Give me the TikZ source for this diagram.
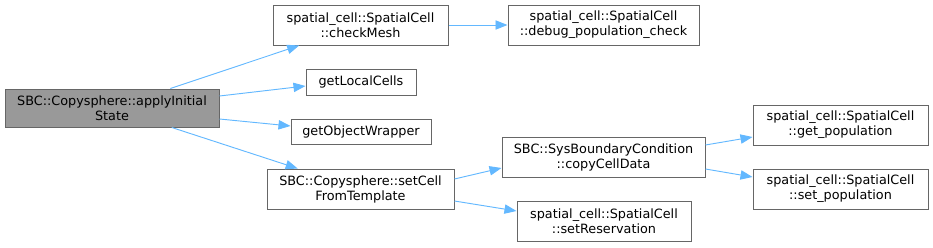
\documentclass[tikz,border=0pt]{standalone}
\usepackage{fontspec}
\setmainfont{DejaVu Sans}
\usetikzlibrary{arrows.meta}
\definecolor{edgeblue}{HTML}{63B8FF}
\definecolor{boxborder}{HTML}{666666}
\definecolor{mainfill}{HTML}{999999}
\begin{document}
\begin{tikzpicture}[x=0.75pt,y=-0.75pt,
  fn/.style={draw=boxborder,fill=white,line width=0.75pt,inner sep=0pt,align=center,
    font=\fontsize{9.6pt}{11.3pt}\selectfont,text=black},
  mainfn/.style={fn,fill=mainfill},
  call/.style={draw=edgeblue,line width=0.7pt,-{Stealth[length=9pt,width=7pt,inset=0pt]}}]
\useasboundingbox (0,0) rectangle (933,247);
\node[mainfn,minimum width=214*0.75pt,minimum height=38*0.75pt] (main) at (112,108) {SBC::Copysphere::applyInitial\\State};
\node[fn,minimum width=175*0.75pt,minimum height=40*0.75pt] (check) at (360.5,25) {spatial\_cell::SpatialCell\\::checkMesh};
\node[fn,minimum width=191*0.75pt,minimum height=40*0.75pt] (debug) at (603.5,25) {spatial\_cell::SpatialCell\\::debug\_population\_check};
\node[fn,minimum width=110*0.75pt,minimum height=26*0.75pt] (local) at (361,82) {getLocalCells};
\node[fn,minimum width=140*0.75pt,minimum height=25*0.75pt] (wrap) at (361,131.5) {getObjectWrapper};
\node[fn,minimum width=187*0.75pt,minimum height=40*0.75pt] (setcell) at (360.5,189) {SBC::Copysphere::setCell\\FromTemplate};
\node[fn,minimum width=203*0.75pt,minimum height=40*0.75pt] (copy) at (603.5,157) {SBC::SysBoundaryCondition\\::copyCellData};
\node[fn,minimum width=174*0.75pt,minimum height=40*0.75pt] (reserv) at (604,221) {spatial\_cell::SpatialCell\\::setReservation};
\node[fn,minimum width=175*0.75pt,minimum height=40*0.75pt] (getpop) at (840.5,125) {spatial\_cell::SpatialCell\\::get\_population};
\node[fn,minimum width=175*0.75pt,minimum height=40*0.75pt] (setpop) at (840.5,189) {spatial\_cell::SpatialCell\\::set\_population};
\draw[call] (main) -- (check);
\draw[call] (check) -- (debug);
\draw[call] (main.east |- 0,96) -- (local.west |- 0,86);
\draw[call] (main.east |- 0,119) -- (wrap.west |- 0,126);
\draw[call] (main) -- (setcell);
\draw[call] (setcell.east |- 0,179) -- (copy.west |- 0,168);
\draw[call] (setcell.east |- 0,201) -- (reserv.west |- 0,211);
\draw[call] (copy.east |- 0,145) -- (getpop.west |- 0,137);
\draw[call] (copy.east |- 0,169) -- (setpop.west |- 0,177);
\end{tikzpicture}
\end{document}
